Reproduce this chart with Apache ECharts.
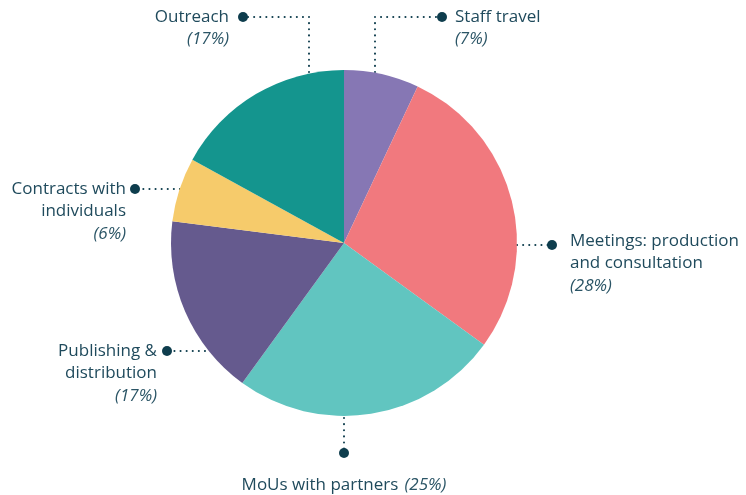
<!DOCTYPE html>
<html>
<head>
<meta charset="utf-8">
<script src="https://cdn.jsdelivr.net/npm/echarts@6/dist/echarts.min.js"></script>
<style>
  html, body { margin: 0; padding: 0; background: #fff; }
  #chart { width: 746px; height: 495px; }
</style>
</head>
<body>
<div id="chart"></div>
<script>
// data
var names = ['Staff travel', 'Meetings: production and consultation', 'MoUs with partners',
  'Publishing & distribution', 'Contracts with individuals', 'Outreach'];
var labelText = ['Staff travel', 'Meetings: production\nand consultation', 'MoUs with partners',
  'Publishing &\ndistribution', 'Contracts with\nindividuals', 'Outreach'];
var shares = [7, 28, 25, 17, 6, 17];
var colors = ['#8677b4', '#f1797e', '#61c5c0', '#655a8e', '#f6cb6b', '#14958e'];

var cx = 344, cy = 243, r = 173;
var ink = '#0e3d4d';

// leader lines: from pie edge to dot, then label placement
var leaders = [
  { line: [[375, 72], [375, 17], [440, 17]], dot: [442, 17], x: 455, y: 17, align: 'left' },
  { line: [[517, 245], [550, 245]], dot: [552, 245], x: 570, y: 241, align: 'left' },
  { line: [[344, 418], [344, 450]], dot: [344, 453], x: 344, y: 485, align: 'center' },
  { line: [[205, 351], [168, 351]], dot: [167, 351], x: 157, y: 351, align: 'right' },
  { line: [[180, 189], [136, 189]], dot: [135, 189], x: 126, y: 189, align: 'right' },
  { line: [[309, 72], [309, 17], [246, 17]], dot: [243, 17], x: 229, y: 17, align: 'right' }
];

var lineH = 22.5;

var data = names.map(function (n, i) {
  var txt = i === 2
    ? '{n|' + labelText[i] + '}  {p|(' + shares[i] + '%)}'
    : labelText[i].split('\n').map(function (s) { return '{n|' + s + '}'; }).join('\n') +
      '\n{p|(' + shares[i] + '%)}';
  return {
    name: n,
    value: shares[i],
    itemStyle: { color: colors[i] },
    label: { formatter: txt, align: leaders[i].align }
  };
});

var chart = echarts.init(document.getElementById('chart'));
var option = {
  animation: false,
  backgroundColor: '#fff',
  graphic: leaders.map(function (l) {
    return {
      type: 'circle',
      shape: { cx: l.dot[0], cy: l.dot[1], r: 5 },
      style: { fill: ink },
      z: 100
    };
  }),
  series: [{
    type: 'pie',
    center: [cx, cy],
    radius: r,
    startAngle: 90,
    clockwise: true,
    data: data,
    itemStyle: { borderWidth: 0 },
    emphasis: { disabled: true },
    label: {
      show: true,
      color: '#1f4a5c',
      fontFamily: 'Open Sans',
      rich: {
        n: { fontSize: 17, color: '#1f4a5c', fontFamily: 'Open Sans', lineHeight: lineH },
        p: { fontSize: 17, color: '#2b5566', fontStyle: 'italic', fontFamily: 'Open Sans', lineHeight: lineH }
      }
    },
    labelLine: {
      show: true,
      lineStyle: { color: ink, width: 2, type: [0.1, 6], cap: 'round' }
    },
    labelLayout: function (params) {
      var l = leaders[params.dataIndex];
      return {
        x: l.x,
        y: l.y - lineH / 2,
        align: l.align,
        verticalAlign: 'top',
        labelLinePoints: l.line
      };
    }
  }]
};
chart.setOption(option);
</script>
</body>
</html>
